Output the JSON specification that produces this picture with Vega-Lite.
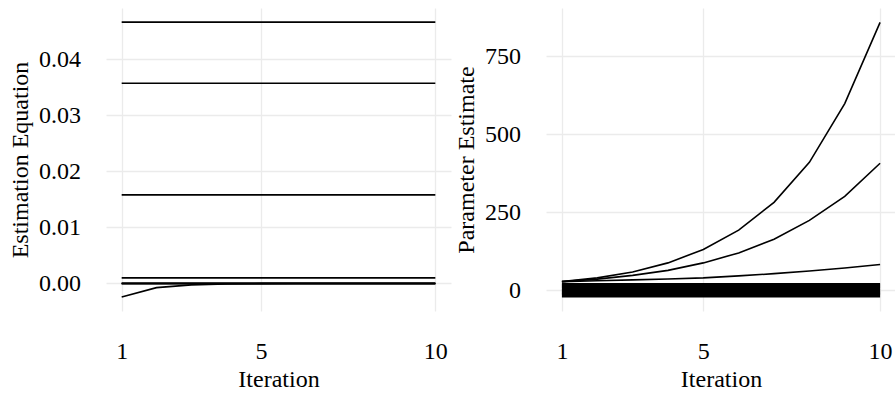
{
  "$schema": "https://vega.github.io/schema/vega-lite/v6.json",
  "padding": {"left": 8, "top": 8, "right": 0, "bottom": 0},
  "bounds": "flush",
  "spacing": 95,
  "config": {
    "view": {"stroke": null},
    "axis": {
      "domain": false,
      "ticks": false,
      "tickSize": 0,
      "grid": true,
      "gridColor": "#EBEBEB",
      "gridWidth": 1.3,
      "labelFont": "Liberation Serif",
      "labelFontSize": 24,
      "labelColor": "black",
      "labelFlush": false,
      "titleFont": "Liberation Serif",
      "titleFontSize": 24,
      "titleFontWeight": "normal",
      "titleColor": "black"
    },
    "axisX": {"labelPadding": 28, "titlePadding": 4.5},
    "axisY": {"labelPadding": 25.5, "titlePadding": 6}
  },
  "datasets": {
    "equation": [
      {"param": "e1", "iteration": 1, "value": 0.0466}, {"param": "e1", "iteration": 2, "value": 0.0466}, {"param": "e1", "iteration": 3, "value": 0.0466}, {"param": "e1", "iteration": 4, "value": 0.0466}, {"param": "e1", "iteration": 5, "value": 0.0466},
      {"param": "e1", "iteration": 6, "value": 0.0466}, {"param": "e1", "iteration": 7, "value": 0.0466}, {"param": "e1", "iteration": 8, "value": 0.0466}, {"param": "e1", "iteration": 9, "value": 0.0466}, {"param": "e1", "iteration": 10, "value": 0.0466},
      {"param": "e2", "iteration": 1, "value": 0.0357}, {"param": "e2", "iteration": 2, "value": 0.0357}, {"param": "e2", "iteration": 3, "value": 0.0357}, {"param": "e2", "iteration": 4, "value": 0.0357}, {"param": "e2", "iteration": 5, "value": 0.0357},
      {"param": "e2", "iteration": 6, "value": 0.0357}, {"param": "e2", "iteration": 7, "value": 0.0357}, {"param": "e2", "iteration": 8, "value": 0.0357}, {"param": "e2", "iteration": 9, "value": 0.0357}, {"param": "e2", "iteration": 10, "value": 0.0357},
      {"param": "e3", "iteration": 1, "value": 0.0158}, {"param": "e3", "iteration": 2, "value": 0.0158}, {"param": "e3", "iteration": 3, "value": 0.0158}, {"param": "e3", "iteration": 4, "value": 0.0158}, {"param": "e3", "iteration": 5, "value": 0.0158},
      {"param": "e3", "iteration": 6, "value": 0.0158}, {"param": "e3", "iteration": 7, "value": 0.0158}, {"param": "e3", "iteration": 8, "value": 0.0158}, {"param": "e3", "iteration": 9, "value": 0.0158}, {"param": "e3", "iteration": 10, "value": 0.0158},
      {"param": "e4", "iteration": 1, "value": 0.001}, {"param": "e4", "iteration": 2, "value": 0.001}, {"param": "e4", "iteration": 3, "value": 0.001}, {"param": "e4", "iteration": 4, "value": 0.001}, {"param": "e4", "iteration": 5, "value": 0.001},
      {"param": "e4", "iteration": 6, "value": 0.001}, {"param": "e4", "iteration": 7, "value": 0.001}, {"param": "e4", "iteration": 8, "value": 0.001}, {"param": "e4", "iteration": 9, "value": 0.001}, {"param": "e4", "iteration": 10, "value": 0.001},
      {"param": "e5", "iteration": 1, "value": -0.0024}, {"param": "e5", "iteration": 2, "value": -0.00075}, {"param": "e5", "iteration": 3, "value": -0.00025}, {"param": "e5", "iteration": 4, "value": -0.0001}, {"param": "e5", "iteration": 5, "value": -0.00003},
      {"param": "e5", "iteration": 6, "value": 0}, {"param": "e5", "iteration": 7, "value": 0}, {"param": "e5", "iteration": 8, "value": 0}, {"param": "e5", "iteration": 9, "value": 0}, {"param": "e5", "iteration": 10, "value": 0},
      {"param": "e6", "iteration": 1, "value": 0.000015}, {"param": "e6", "iteration": 2, "value": 0.000015}, {"param": "e6", "iteration": 3, "value": 0.000015}, {"param": "e6", "iteration": 4, "value": 0.000015}, {"param": "e6", "iteration": 5, "value": 0.000015},
      {"param": "e6", "iteration": 6, "value": 0.000015}, {"param": "e6", "iteration": 7, "value": 0.000015}, {"param": "e6", "iteration": 8, "value": 0.000015}, {"param": "e6", "iteration": 9, "value": 0.000015}, {"param": "e6", "iteration": 10, "value": 0.000015},
      {"param": "e7", "iteration": 1, "value": 0.000005}, {"param": "e7", "iteration": 2, "value": 0.000005}, {"param": "e7", "iteration": 3, "value": 0.000005}, {"param": "e7", "iteration": 4, "value": 0.000005}, {"param": "e7", "iteration": 5, "value": 0.000005},
      {"param": "e7", "iteration": 6, "value": 0.000005}, {"param": "e7", "iteration": 7, "value": 0.000005}, {"param": "e7", "iteration": 8, "value": 0.000005}, {"param": "e7", "iteration": 9, "value": 0.000005}, {"param": "e7", "iteration": 10, "value": 0.000005},
      {"param": "e8", "iteration": 1, "value": -0.000005}, {"param": "e8", "iteration": 2, "value": -0.000005}, {"param": "e8", "iteration": 3, "value": -0.000005}, {"param": "e8", "iteration": 4, "value": -0.000005}, {"param": "e8", "iteration": 5, "value": -0.000005},
      {"param": "e8", "iteration": 6, "value": -0.000005}, {"param": "e8", "iteration": 7, "value": -0.000005}, {"param": "e8", "iteration": 8, "value": -0.000005}, {"param": "e8", "iteration": 9, "value": -0.000005}, {"param": "e8", "iteration": 10, "value": -0.000005},
      {"param": "e9", "iteration": 1, "value": -0.000015}, {"param": "e9", "iteration": 2, "value": -0.000015}, {"param": "e9", "iteration": 3, "value": -0.000015}, {"param": "e9", "iteration": 4, "value": -0.000015}, {"param": "e9", "iteration": 5, "value": -0.000015},
      {"param": "e9", "iteration": 6, "value": -0.000015}, {"param": "e9", "iteration": 7, "value": -0.000015}, {"param": "e9", "iteration": 8, "value": -0.000015}, {"param": "e9", "iteration": 9, "value": -0.000015}, {"param": "e9", "iteration": 10, "value": -0.000015}
    ],
    "estimate": [
      {"param": "r1", "iteration": 1, "value": 28}, {"param": "r1", "iteration": 2, "value": 40}, {"param": "r1", "iteration": 3, "value": 59}, {"param": "r1", "iteration": 4, "value": 88}, {"param": "r1", "iteration": 5, "value": 131},
      {"param": "r1", "iteration": 6, "value": 193}, {"param": "r1", "iteration": 7, "value": 282}, {"param": "r1", "iteration": 8, "value": 410}, {"param": "r1", "iteration": 9, "value": 598}, {"param": "r1", "iteration": 10, "value": 858},
      {"param": "r2", "iteration": 1, "value": 28}, {"param": "r2", "iteration": 2, "value": 36}, {"param": "r2", "iteration": 3, "value": 48}, {"param": "r2", "iteration": 4, "value": 64}, {"param": "r2", "iteration": 5, "value": 88},
      {"param": "r2", "iteration": 6, "value": 120}, {"param": "r2", "iteration": 7, "value": 164}, {"param": "r2", "iteration": 8, "value": 224}, {"param": "r2", "iteration": 9, "value": 301}, {"param": "r2", "iteration": 10, "value": 407},
      {"param": "r3", "iteration": 1, "value": 28}, {"param": "r3", "iteration": 2, "value": 30.6}, {"param": "r3", "iteration": 3, "value": 33.5}, {"param": "r3", "iteration": 4, "value": 36.6}, {"param": "r3", "iteration": 5, "value": 40},
      {"param": "r3", "iteration": 6, "value": 46.3}, {"param": "r3", "iteration": 7, "value": 53.5}, {"param": "r3", "iteration": 8, "value": 61.9}, {"param": "r3", "iteration": 9, "value": 71.7}, {"param": "r3", "iteration": 10, "value": 83},
      {"param": "r4", "iteration": 1, "value": 21}, {"param": "r4", "iteration": 2, "value": 21}, {"param": "r4", "iteration": 3, "value": 21}, {"param": "r4", "iteration": 4, "value": 21}, {"param": "r4", "iteration": 5, "value": 21},
      {"param": "r4", "iteration": 6, "value": 21}, {"param": "r4", "iteration": 7, "value": 21}, {"param": "r4", "iteration": 8, "value": 21}, {"param": "r4", "iteration": 9, "value": 21}, {"param": "r4", "iteration": 10, "value": 21},
      {"param": "r5", "iteration": 1, "value": 18}, {"param": "r5", "iteration": 2, "value": 18}, {"param": "r5", "iteration": 3, "value": 18}, {"param": "r5", "iteration": 4, "value": 18}, {"param": "r5", "iteration": 5, "value": 18},
      {"param": "r5", "iteration": 6, "value": 18}, {"param": "r5", "iteration": 7, "value": 18}, {"param": "r5", "iteration": 8, "value": 18}, {"param": "r5", "iteration": 9, "value": 18}, {"param": "r5", "iteration": 10, "value": 18},
      {"param": "r6", "iteration": 1, "value": 15}, {"param": "r6", "iteration": 2, "value": 15}, {"param": "r6", "iteration": 3, "value": 15}, {"param": "r6", "iteration": 4, "value": 15}, {"param": "r6", "iteration": 5, "value": 15},
      {"param": "r6", "iteration": 6, "value": 15}, {"param": "r6", "iteration": 7, "value": 15}, {"param": "r6", "iteration": 8, "value": 15}, {"param": "r6", "iteration": 9, "value": 15}, {"param": "r6", "iteration": 10, "value": 15},
      {"param": "r7", "iteration": 1, "value": 12}, {"param": "r7", "iteration": 2, "value": 12}, {"param": "r7", "iteration": 3, "value": 12}, {"param": "r7", "iteration": 4, "value": 12}, {"param": "r7", "iteration": 5, "value": 12},
      {"param": "r7", "iteration": 6, "value": 12}, {"param": "r7", "iteration": 7, "value": 12}, {"param": "r7", "iteration": 8, "value": 12}, {"param": "r7", "iteration": 9, "value": 12}, {"param": "r7", "iteration": 10, "value": 12},
      {"param": "r8", "iteration": 1, "value": 9}, {"param": "r8", "iteration": 2, "value": 9}, {"param": "r8", "iteration": 3, "value": 9}, {"param": "r8", "iteration": 4, "value": 9}, {"param": "r8", "iteration": 5, "value": 9},
      {"param": "r8", "iteration": 6, "value": 9}, {"param": "r8", "iteration": 7, "value": 9}, {"param": "r8", "iteration": 8, "value": 9}, {"param": "r8", "iteration": 9, "value": 9}, {"param": "r8", "iteration": 10, "value": 9},
      {"param": "r9", "iteration": 1, "value": 6}, {"param": "r9", "iteration": 2, "value": 6}, {"param": "r9", "iteration": 3, "value": 6}, {"param": "r9", "iteration": 4, "value": 6}, {"param": "r9", "iteration": 5, "value": 6},
      {"param": "r9", "iteration": 6, "value": 6}, {"param": "r9", "iteration": 7, "value": 6}, {"param": "r9", "iteration": 8, "value": 6}, {"param": "r9", "iteration": 9, "value": 6}, {"param": "r9", "iteration": 10, "value": 6},
      {"param": "r10", "iteration": 1, "value": 3}, {"param": "r10", "iteration": 2, "value": 3}, {"param": "r10", "iteration": 3, "value": 3}, {"param": "r10", "iteration": 4, "value": 3}, {"param": "r10", "iteration": 5, "value": 3},
      {"param": "r10", "iteration": 6, "value": 3}, {"param": "r10", "iteration": 7, "value": 3}, {"param": "r10", "iteration": 8, "value": 3}, {"param": "r10", "iteration": 9, "value": 3}, {"param": "r10", "iteration": 10, "value": 3},
      {"param": "r11", "iteration": 1, "value": 0}, {"param": "r11", "iteration": 2, "value": 0}, {"param": "r11", "iteration": 3, "value": 0}, {"param": "r11", "iteration": 4, "value": 0}, {"param": "r11", "iteration": 5, "value": 0},
      {"param": "r11", "iteration": 6, "value": 0}, {"param": "r11", "iteration": 7, "value": 0}, {"param": "r11", "iteration": 8, "value": 0}, {"param": "r11", "iteration": 9, "value": 0}, {"param": "r11", "iteration": 10, "value": 0},
      {"param": "r12", "iteration": 1, "value": -3}, {"param": "r12", "iteration": 2, "value": -3}, {"param": "r12", "iteration": 3, "value": -3}, {"param": "r12", "iteration": 4, "value": -3}, {"param": "r12", "iteration": 5, "value": -3},
      {"param": "r12", "iteration": 6, "value": -3}, {"param": "r12", "iteration": 7, "value": -3}, {"param": "r12", "iteration": 8, "value": -3}, {"param": "r12", "iteration": 9, "value": -3}, {"param": "r12", "iteration": 10, "value": -3},
      {"param": "r13", "iteration": 1, "value": -6}, {"param": "r13", "iteration": 2, "value": -6}, {"param": "r13", "iteration": 3, "value": -6}, {"param": "r13", "iteration": 4, "value": -6}, {"param": "r13", "iteration": 5, "value": -6},
      {"param": "r13", "iteration": 6, "value": -6}, {"param": "r13", "iteration": 7, "value": -6}, {"param": "r13", "iteration": 8, "value": -6}, {"param": "r13", "iteration": 9, "value": -6}, {"param": "r13", "iteration": 10, "value": -6},
      {"param": "r14", "iteration": 1, "value": -9}, {"param": "r14", "iteration": 2, "value": -9}, {"param": "r14", "iteration": 3, "value": -9}, {"param": "r14", "iteration": 4, "value": -9}, {"param": "r14", "iteration": 5, "value": -9},
      {"param": "r14", "iteration": 6, "value": -9}, {"param": "r14", "iteration": 7, "value": -9}, {"param": "r14", "iteration": 8, "value": -9}, {"param": "r14", "iteration": 9, "value": -9}, {"param": "r14", "iteration": 10, "value": -9},
      {"param": "r15", "iteration": 1, "value": -12}, {"param": "r15", "iteration": 2, "value": -12}, {"param": "r15", "iteration": 3, "value": -12}, {"param": "r15", "iteration": 4, "value": -12}, {"param": "r15", "iteration": 5, "value": -12},
      {"param": "r15", "iteration": 6, "value": -12}, {"param": "r15", "iteration": 7, "value": -12}, {"param": "r15", "iteration": 8, "value": -12}, {"param": "r15", "iteration": 9, "value": -12}, {"param": "r15", "iteration": 10, "value": -12},
      {"param": "r16", "iteration": 1, "value": -16}, {"param": "r16", "iteration": 2, "value": -16}, {"param": "r16", "iteration": 3, "value": -16}, {"param": "r16", "iteration": 4, "value": -16}, {"param": "r16", "iteration": 5, "value": -16},
      {"param": "r16", "iteration": 6, "value": -16}, {"param": "r16", "iteration": 7, "value": -16}, {"param": "r16", "iteration": 8, "value": -16}, {"param": "r16", "iteration": 9, "value": -16}, {"param": "r16", "iteration": 10, "value": -16},
      {"param": "r17", "iteration": 1, "value": -20}, {"param": "r17", "iteration": 2, "value": -20}, {"param": "r17", "iteration": 3, "value": -20}, {"param": "r17", "iteration": 4, "value": -20}, {"param": "r17", "iteration": 5, "value": -20},
      {"param": "r17", "iteration": 6, "value": -20}, {"param": "r17", "iteration": 7, "value": -20}, {"param": "r17", "iteration": 8, "value": -20}, {"param": "r17", "iteration": 9, "value": -20}, {"param": "r17", "iteration": 10, "value": -20}
    ]
  },
  "hconcat": [
    {
      "width": 345,
      "height": 303,
      "data": {"name": "equation"},
      "mark": {"type": "line", "color": "black", "strokeWidth": 1.6},
      "encoding": {
        "x": {
          "field": "iteration",
          "type": "quantitative",
          "scale": {"domain": [0.55, 10.45], "nice": false, "zero": false},
          "axis": {"values": [1, 5, 10], "title": "Iteration", "labelFont": "Liberation Serif", "titleFont": "Liberation Serif"}
        },
        "y": {
          "field": "value",
          "type": "quantitative",
          "scale": {"domain": [-0.00491, 0.04911], "nice": false, "zero": false},
          "axis": {"values": [0, 0.01, 0.02, 0.03, 0.04], "format": ".2f", "title": "Estimation Equation", "labelFont": "Liberation Serif", "titleFont": "Liberation Serif"}
        },
        "detail": {"field": "param"}
      }
    },
    {
      "width": 350,
      "height": 303,
      "data": {"name": "estimate"},
      "mark": {"type": "line", "color": "black", "strokeWidth": 1.6},
      "encoding": {
        "x": {
          "field": "iteration",
          "type": "quantitative",
          "scale": {"domain": [0.55, 10.45], "nice": false, "zero": false},
          "axis": {"values": [1, 5, 10], "title": "Iteration", "labelFont": "Liberation Serif", "titleFont": "Liberation Serif"}
        },
        "y": {
          "field": "value",
          "type": "quantitative",
          "scale": {"domain": [-66, 904], "nice": false, "zero": false},
          "axis": {"values": [0, 250, 500, 750], "title": "Parameter Estimate", "labelFont": "Liberation Serif", "titleFont": "Liberation Serif"}
        },
        "detail": {"field": "param"}
      }
    }
  ]
}
